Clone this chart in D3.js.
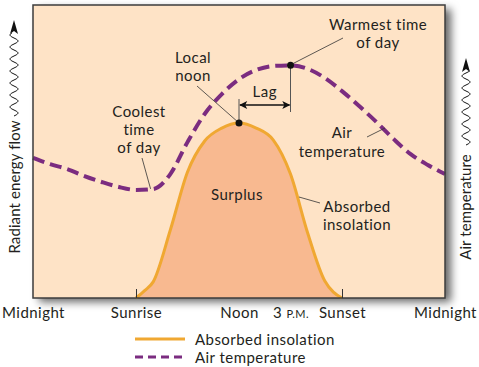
<!DOCTYPE html>
<html>
<head>
<meta charset="utf-8">
<script src="https://cdn.jsdelivr.net/npm/d3@7"></script>
<style>
  html, body { margin: 0; padding: 0; background: #ffffff; }
  svg { display: block; }
  text { font-family: Lato, "Open Sans", sans-serif; fill: #231f20; letter-spacing: 0.45px; }
</style>
</head>
<body>
<svg id="chart" width="479" height="367"></svg>
<script>
// ---- data ----
const hours = [0,1,2,3,4,5,6,7,8,9,10,11,12,13,14,15,16,17,18,19,20,21,22,23,24];
const airTemp = [47.8,45.7,44.0,41.6,39.6,37.9,36.9,37.2,42.3,53.2,62.8,69.6,74.7,77.8,79.2,79.4,78.2,75.1,70.6,65.5,60.1,54.3,49.1,45.4,42.3];
const sunHours = [6,6.5,7,8,9,10,11,12,13,14,15,16,17,17.5,18];
const insolation = [0,2.5,5.5,23.2,43.0,53.6,58.0,59.7,58.0,53.9,42.3,22.2,5.8,2.0,0];
const tickHours = [0,6,12,15,18,24];
const tickLabels = ["Midnight","Sunrise","Noon","3 P.M.","Sunset","Midnight"];
const legendLabels = ["Absorbed insolation","Air temperature"];

// ---- setup ----
const svg = d3.select("#chart");
const plot = {left: 33, right: 445, top: 5, bottom: 298};
const x = d3.scaleLinear().domain([0,24]).range([plot.left, plot.right]);
const y = d3.scaleLinear().domain([0,100]).range([plot.bottom, plot.top]);
const FS = "15px";

const colors = {bg: "#fee3c6", fill: "#f8b990", orange: "#f0a832", purple: "#7b2c80", frame: "#3d3d3d"};

const defs = svg.append("defs");
const f = defs.append("filter").attr("id","shadow").attr("x","-10%").attr("y","-10%").attr("width","130%").attr("height","130%");
f.append("feDropShadow").attr("dx",6).attr("dy",4).attr("stdDeviation",4).attr("flood-color","#000").attr("flood-opacity",0.6);
const mk = defs.append("marker").attr("id","ah").attr("viewBox","0 0 10 10").attr("refX",9).attr("refY",5)
  .attr("markerWidth",10).attr("markerHeight",8).attr("markerUnits","userSpaceOnUse").attr("orient","auto-start-reverse");
mk.append("path").attr("d","M0,0 L10,5 L0,10 L2.5,5 Z").attr("fill","#111");

// plot frame
svg.append("rect").attr("x",plot.left).attr("y",plot.top)
  .attr("width",plot.right-plot.left).attr("height",plot.bottom-plot.top)
  .attr("fill",colors.bg).attr("filter","url(#shadow)");

// surplus area
const sunData = sunHours.map((h,i)=>({h, v: insolation[i]}));
const airData = hours.map((h,i)=>({h, v: airTemp[i]}));
svg.append("path").datum(sunData)
  .attr("d", d3.area().x(d=>x(d.h)).y0(y(0)).y1(d=>y(d.v)).curve(d3.curveMonotoneX))
  .attr("fill", colors.fill);
svg.append("path").datum(sunData)
  .attr("d", d3.line().x(d=>x(d.h)).y(d=>y(d.v)).curve(d3.curveMonotoneX))
  .attr("fill","none").attr("stroke",colors.orange).attr("stroke-width",3);

// air temperature
svg.append("path").datum(airData)
  .attr("d", d3.line().x(d=>x(d.h)).y(d=>y(d.v)).curve(d3.curveMonotoneX))
  .attr("fill","none").attr("stroke",colors.purple).attr("stroke-width",4)
  .attr("stroke-dasharray","12,6");

// frame border
svg.append("rect").attr("x",plot.left).attr("y",plot.top)
  .attr("width",plot.right-plot.left).attr("height",plot.bottom-plot.top)
  .attr("fill","none").attr("stroke",colors.frame).attr("stroke-width",1.5);

// inner ticks at sunrise & sunset
const innerTicks = svg.append("g").attr("transform",`translate(0,${plot.bottom})`)
  .call(d3.axisBottom(x).tickValues([6,18]).tickSize(-9).tickFormat(""));
innerTicks.select(".domain").remove();
innerTicks.selectAll("line").attr("stroke","#333").attr("stroke-width",1);

// bottom axis labels
const ax = svg.append("g").attr("transform",`translate(0,${plot.bottom})`)
  .call(d3.axisBottom(x).tickValues(tickHours).tickSize(0).tickPadding(0).tickFormat(""));
ax.select(".domain").remove();
ax.selectAll(".tick").each(function(d,i){
  const t = d3.select(this).append("text").attr("y",20).attr("text-anchor","middle")
    .style("font-size",FS).attr("fill","#231f20");
  const lab = tickLabels[i];
  if (lab.startsWith("3 ")) {
    t.append("tspan").text("3 ");
    t.append("tspan").style("font-size","11px").text(lab.slice(2));
  } else {
    t.text(lab);
  }
});

// helper for text blocks
function label(lines, cx, by, lh){
  const t = svg.append("text").attr("text-anchor","middle").style("font-size",FS);
  lines.forEach((s,i)=> t.append("tspan").attr("x",cx).attr("y",by+i*lh).text(s));
  return t;
}
function pointer(x1,y1,x2,y2){
  svg.append("line").attr("x1",x1).attr("y1",y1).attr("x2",x2).attr("y2",y2)
    .attr("stroke","#333").attr("stroke-width",0.8);
}

const noonX = x(12), noonY = y(insolation[sunHours.indexOf(12)]);
const warmX = x(15), warmY = y(airTemp[15]);

// lag construction
const lagY = 105;
svg.append("line").attr("x1",noonX).attr("x2",noonX).attr("y1",lagY-6).attr("y2",noonY).attr("stroke","#555").attr("stroke-width",1);
svg.append("line").attr("x1",warmX).attr("x2",warmX).attr("y1",warmY).attr("y2",lagY+7).attr("stroke","#555").attr("stroke-width",1);
svg.append("line").attr("x1",noonX+1).attr("x2",warmX-1).attr("y1",lagY).attr("y2",lagY)
  .attr("stroke","#111").attr("stroke-width",1.3)
  .attr("marker-start","url(#ah)").attr("marker-end","url(#ah)");
label(["Lag"], (noonX+warmX)/2, 97, 18);

// annotations
label(["Local","noon"], 193, 63, 18);
pointer(197, 86, noonX-1, noonY-1);
label(["Warmest time","of day"], 378, 30, 18);
pointer(343, 38, warmX+1, warmY-1);
label(["Coolest","time","of day"], 139, 117, 18);
pointer(142, 158, x(6.85), y(36.9)-1);
label(["Air","temperature"], 342, 138, 19);
pointer(367, 137, 385, 128);
label(["Surplus"], 237, 200, 18);
label(["Absorbed","insolation"], 357, 212, 18);
pointer(299, 197, 320, 203);

// dots
svg.append("circle").attr("cx",noonX).attr("cy",noonY).attr("r",3.5).attr("fill","#111");
svg.append("circle").attr("cx",warmX).attr("cy",warmY).attr("r",3.5).attr("fill","#111");

// vertical axis titles with wavy arrows
function wavy(cx, yBottom, yTop){
  const pts = d3.range(yBottom, yTop-0.1, -0.5).map(yy => [cx + 4*Math.sin((yBottom-yy)/12*2*Math.PI), yy]);
  svg.append("path").attr("d", d3.line()(pts)).attr("fill","none").attr("stroke","#111").attr("stroke-width",1);
  svg.append("path").attr("d",`M${cx},${yTop-13} L${cx+4},${yTop+1} L${cx},${yTop-2} L${cx-4},${yTop+1} Z`).attr("fill","#111");
}
wavy(14, 116, 33);
svg.append("text").attr("transform","translate(20,187) rotate(-90)").attr("text-anchor","middle")
  .style("font-size",FS).style("letter-spacing","0.1px").text("Radiant energy flow");
wavy(466, 145, 71);
svg.append("text").attr("transform","translate(471,207) rotate(-90)").attr("text-anchor","middle")
  .style("font-size",FS).style("letter-spacing","0.1px").text("Air temperature");

// legend
const lg = svg.append("g");
lg.append("line").attr("x1",135).attr("x2",185).attr("y1",339).attr("y2",339).attr("stroke",colors.orange).attr("stroke-width",3);
lg.append("line").attr("x1",135).attr("x2",185).attr("y1",357).attr("y2",357).attr("stroke",colors.purple).attr("stroke-width",3).attr("stroke-dasharray","8,5");
lg.append("text").attr("x",195).attr("y",345).style("font-size",FS).text(legendLabels[0]);
lg.append("text").attr("x",195).attr("y",363).style("font-size",FS).text(legendLabels[1]);
</script>
</body>
</html>
